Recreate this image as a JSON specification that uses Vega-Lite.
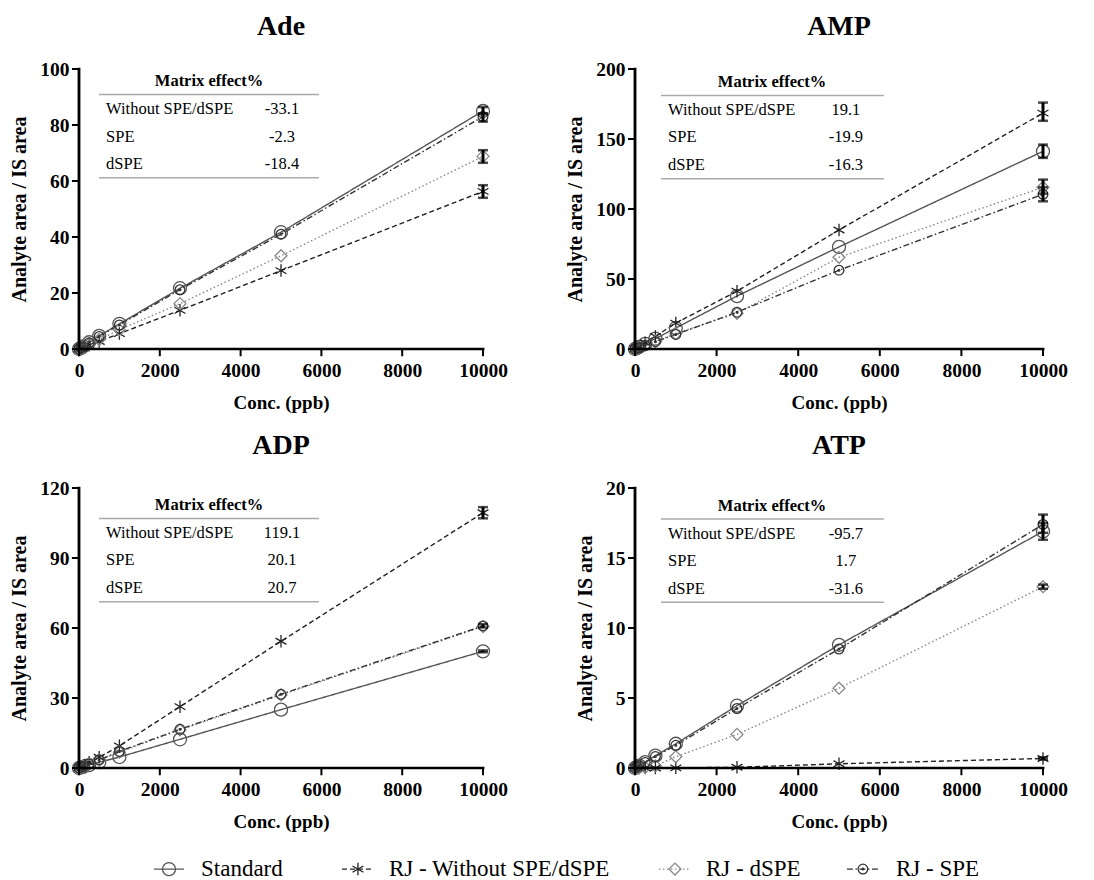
{
  "$schema": "https://vega.github.io/schema/vega-lite/v6.json",
  "padding": {"left": 9, "top": 13, "right": 5, "bottom": 0},
  "background": "white",
  "datasets": {
    "pts": [
      {"p":"Ade","s":"Standard","c":0,"v":0},{"p":"Ade","s":"Standard","c":50,"v":0.4},{"p":"Ade","s":"Standard","c":100,"v":0.9},{"p":"Ade","s":"Standard","c":250,"v":2.4},{"p":"Ade","s":"Standard","c":500,"v":4.7},{"p":"Ade","s":"Standard","c":1000,"v":9.0},{"p":"Ade","s":"Standard","c":2500,"v":21.7},{"p":"Ade","s":"Standard","c":5000,"v":41.7},{"p":"Ade","s":"Standard","c":10000,"v":85.0},
      {"p":"Ade","s":"RJ - Without SPE/dSPE","c":0,"v":0},{"p":"Ade","s":"RJ - Without SPE/dSPE","c":50,"v":0.2},{"p":"Ade","s":"RJ - Without SPE/dSPE","c":100,"v":0.5},{"p":"Ade","s":"RJ - Without SPE/dSPE","c":250,"v":1.3},{"p":"Ade","s":"RJ - Without SPE/dSPE","c":500,"v":2.7},{"p":"Ade","s":"RJ - Without SPE/dSPE","c":1000,"v":5.5},{"p":"Ade","s":"RJ - Without SPE/dSPE","c":2500,"v":13.8},{"p":"Ade","s":"RJ - Without SPE/dSPE","c":5000,"v":28.0},{"p":"Ade","s":"RJ - Without SPE/dSPE","c":10000,"v":56.3},
      {"p":"Ade","s":"RJ - dSPE","c":0,"v":0},{"p":"Ade","s":"RJ - dSPE","c":50,"v":0.3},{"p":"Ade","s":"RJ - dSPE","c":100,"v":0.6},{"p":"Ade","s":"RJ - dSPE","c":250,"v":1.7},{"p":"Ade","s":"RJ - dSPE","c":500,"v":3.4},{"p":"Ade","s":"RJ - dSPE","c":1000,"v":6.9},{"p":"Ade","s":"RJ - dSPE","c":2500,"v":16.2},{"p":"Ade","s":"RJ - dSPE","c":5000,"v":33.3},{"p":"Ade","s":"RJ - dSPE","c":10000,"v":68.8},
      {"p":"Ade","s":"RJ - SPE","c":0,"v":0},{"p":"Ade","s":"RJ - SPE","c":50,"v":0.4},{"p":"Ade","s":"RJ - SPE","c":100,"v":0.8},{"p":"Ade","s":"RJ - SPE","c":250,"v":2.2},{"p":"Ade","s":"RJ - SPE","c":500,"v":4.5},{"p":"Ade","s":"RJ - SPE","c":1000,"v":8.6},{"p":"Ade","s":"RJ - SPE","c":2500,"v":21.2},{"p":"Ade","s":"RJ - SPE","c":5000,"v":41.0},{"p":"Ade","s":"RJ - SPE","c":10000,"v":83.0},
      {"p":"AMP","s":"Standard","c":0,"v":0},{"p":"AMP","s":"Standard","c":50,"v":0.7},{"p":"AMP","s":"Standard","c":100,"v":1.5},{"p":"AMP","s":"Standard","c":250,"v":3.7},{"p":"AMP","s":"Standard","c":500,"v":7.4},{"p":"AMP","s":"Standard","c":1000,"v":15.0},{"p":"AMP","s":"Standard","c":2500,"v":37.8},{"p":"AMP","s":"Standard","c":5000,"v":72.9},{"p":"AMP","s":"Standard","c":10000,"v":141.2},
      {"p":"AMP","s":"RJ - Without SPE/dSPE","c":0,"v":0},{"p":"AMP","s":"RJ - Without SPE/dSPE","c":50,"v":0.9},{"p":"AMP","s":"RJ - Without SPE/dSPE","c":100,"v":1.8},{"p":"AMP","s":"RJ - Without SPE/dSPE","c":250,"v":4.5},{"p":"AMP","s":"RJ - Without SPE/dSPE","c":500,"v":9.0},{"p":"AMP","s":"RJ - Without SPE/dSPE","c":1000,"v":18.5},{"p":"AMP","s":"RJ - Without SPE/dSPE","c":2500,"v":41.3},{"p":"AMP","s":"RJ - Without SPE/dSPE","c":5000,"v":85.0},{"p":"AMP","s":"RJ - Without SPE/dSPE","c":10000,"v":168.5},
      {"p":"AMP","s":"RJ - dSPE","c":0,"v":0},{"p":"AMP","s":"RJ - dSPE","c":50,"v":0.5},{"p":"AMP","s":"RJ - dSPE","c":100,"v":1.1},{"p":"AMP","s":"RJ - dSPE","c":250,"v":2.7},{"p":"AMP","s":"RJ - dSPE","c":500,"v":5.5},{"p":"AMP","s":"RJ - dSPE","c":1000,"v":11.0},{"p":"AMP","s":"RJ - dSPE","c":2500,"v":25.5},{"p":"AMP","s":"RJ - dSPE","c":5000,"v":65.5},{"p":"AMP","s":"RJ - dSPE","c":10000,"v":115.5},
      {"p":"AMP","s":"RJ - SPE","c":0,"v":0},{"p":"AMP","s":"RJ - SPE","c":50,"v":0.5},{"p":"AMP","s":"RJ - SPE","c":100,"v":1.0},{"p":"AMP","s":"RJ - SPE","c":250,"v":2.6},{"p":"AMP","s":"RJ - SPE","c":500,"v":5.2},{"p":"AMP","s":"RJ - SPE","c":1000,"v":10.4},{"p":"AMP","s":"RJ - SPE","c":2500,"v":26.3},{"p":"AMP","s":"RJ - SPE","c":5000,"v":56.3},{"p":"AMP","s":"RJ - SPE","c":10000,"v":110.5},
      {"p":"ADP","s":"Standard","c":0,"v":0},{"p":"ADP","s":"Standard","c":50,"v":0.25},{"p":"ADP","s":"Standard","c":100,"v":0.5},{"p":"ADP","s":"Standard","c":250,"v":1.25},{"p":"ADP","s":"Standard","c":500,"v":2.5},{"p":"ADP","s":"Standard","c":1000,"v":4.7},{"p":"ADP","s":"Standard","c":2500,"v":12.3},{"p":"ADP","s":"Standard","c":5000,"v":25.0},{"p":"ADP","s":"Standard","c":10000,"v":50.0},
      {"p":"ADP","s":"RJ - Without SPE/dSPE","c":0,"v":0},{"p":"ADP","s":"RJ - Without SPE/dSPE","c":50,"v":0.5},{"p":"ADP","s":"RJ - Without SPE/dSPE","c":100,"v":1.0},{"p":"ADP","s":"RJ - Without SPE/dSPE","c":250,"v":2.5},{"p":"ADP","s":"RJ - Without SPE/dSPE","c":500,"v":4.6},{"p":"ADP","s":"RJ - Without SPE/dSPE","c":1000,"v":9.5},{"p":"ADP","s":"RJ - Without SPE/dSPE","c":2500,"v":26.3},{"p":"ADP","s":"RJ - Without SPE/dSPE","c":5000,"v":54.3},{"p":"ADP","s":"RJ - Without SPE/dSPE","c":10000,"v":109.4},
      {"p":"ADP","s":"RJ - dSPE","c":0,"v":0},{"p":"ADP","s":"RJ - dSPE","c":50,"v":0.35},{"p":"ADP","s":"RJ - dSPE","c":100,"v":0.7},{"p":"ADP","s":"RJ - dSPE","c":250,"v":1.7},{"p":"ADP","s":"RJ - dSPE","c":500,"v":3.4},{"p":"ADP","s":"RJ - dSPE","c":1000,"v":6.8},{"p":"ADP","s":"RJ - dSPE","c":2500,"v":16.3},{"p":"ADP","s":"RJ - dSPE","c":5000,"v":31.3},{"p":"ADP","s":"RJ - dSPE","c":10000,"v":60.6},
      {"p":"ADP","s":"RJ - SPE","c":0,"v":0},{"p":"ADP","s":"RJ - SPE","c":50,"v":0.35},{"p":"ADP","s":"RJ - SPE","c":100,"v":0.7},{"p":"ADP","s":"RJ - SPE","c":250,"v":1.7},{"p":"ADP","s":"RJ - SPE","c":500,"v":3.5},{"p":"ADP","s":"RJ - SPE","c":1000,"v":7.1},{"p":"ADP","s":"RJ - SPE","c":2500,"v":16.6},{"p":"ADP","s":"RJ - SPE","c":5000,"v":31.6},{"p":"ADP","s":"RJ - SPE","c":10000,"v":60.9},
      {"p":"ATP","s":"Standard","c":0,"v":0},{"p":"ATP","s":"Standard","c":50,"v":0.08},{"p":"ATP","s":"Standard","c":100,"v":0.17},{"p":"ATP","s":"Standard","c":250,"v":0.42},{"p":"ATP","s":"Standard","c":500,"v":0.88},{"p":"ATP","s":"Standard","c":1000,"v":1.73},{"p":"ATP","s":"Standard","c":2500,"v":4.45},{"p":"ATP","s":"Standard","c":5000,"v":8.8},{"p":"ATP","s":"Standard","c":10000,"v":16.9},
      {"p":"ATP","s":"RJ - Without SPE/dSPE","c":0,"v":0},{"p":"ATP","s":"RJ - Without SPE/dSPE","c":50,"v":0},{"p":"ATP","s":"RJ - Without SPE/dSPE","c":100,"v":0},{"p":"ATP","s":"RJ - Without SPE/dSPE","c":250,"v":0},{"p":"ATP","s":"RJ - Without SPE/dSPE","c":500,"v":0},{"p":"ATP","s":"RJ - Without SPE/dSPE","c":1000,"v":0.01},{"p":"ATP","s":"RJ - Without SPE/dSPE","c":2500,"v":0.05},{"p":"ATP","s":"RJ - Without SPE/dSPE","c":5000,"v":0.3},{"p":"ATP","s":"RJ - Without SPE/dSPE","c":10000,"v":0.68},
      {"p":"ATP","s":"RJ - dSPE","c":0,"v":0},{"p":"ATP","s":"RJ - dSPE","c":50,"v":0},{"p":"ATP","s":"RJ - dSPE","c":100,"v":0.01},{"p":"ATP","s":"RJ - dSPE","c":250,"v":0.05},{"p":"ATP","s":"RJ - dSPE","c":500,"v":0.15},{"p":"ATP","s":"RJ - dSPE","c":1000,"v":0.8},{"p":"ATP","s":"RJ - dSPE","c":2500,"v":2.4},{"p":"ATP","s":"RJ - dSPE","c":5000,"v":5.7},{"p":"ATP","s":"RJ - dSPE","c":10000,"v":12.95},
      {"p":"ATP","s":"RJ - SPE","c":0,"v":0},{"p":"ATP","s":"RJ - SPE","c":50,"v":0.08},{"p":"ATP","s":"RJ - SPE","c":100,"v":0.16},{"p":"ATP","s":"RJ - SPE","c":250,"v":0.4},{"p":"ATP","s":"RJ - SPE","c":500,"v":0.82},{"p":"ATP","s":"RJ - SPE","c":1000,"v":1.62},{"p":"ATP","s":"RJ - SPE","c":2500,"v":4.25},{"p":"ATP","s":"RJ - SPE","c":5000,"v":8.5},{"p":"ATP","s":"RJ - SPE","c":10000,"v":17.4}
    ],
    "errs": [
      {"p":"Ade","s":"Standard","c":10000,"lo":83.8,"hi":86.4},{"p":"Ade","s":"RJ - SPE","c":10000,"lo":81.2,"hi":84.2},{"p":"Ade","s":"RJ - dSPE","c":10000,"lo":66.5,"hi":71.0},{"p":"Ade","s":"RJ - Without SPE/dSPE","c":10000,"lo":54.0,"hi":58.5},
      {"p":"AMP","s":"RJ - Without SPE/dSPE","c":10000,"lo":163.0,"hi":176.0},{"p":"AMP","s":"Standard","c":10000,"lo":136.5,"hi":146.0},{"p":"AMP","s":"RJ - dSPE","c":10000,"lo":111.0,"hi":121.0},{"p":"AMP","s":"RJ - SPE","c":10000,"lo":105.5,"hi":115.5},
      {"p":"ADP","s":"RJ - Without SPE/dSPE","c":10000,"lo":107.0,"hi":111.8},{"p":"ADP","s":"RJ - SPE","c":10000,"lo":60.2,"hi":61.6},{"p":"ADP","s":"Standard","c":10000,"lo":49.6,"hi":50.4},
      {"p":"ATP","s":"Standard","c":10000,"lo":16.3,"hi":17.5},{"p":"ATP","s":"RJ - SPE","c":10000,"lo":16.8,"hi":18.1},{"p":"ATP","s":"RJ - dSPE","c":10000,"lo":12.8,"hi":13.1},{"p":"ATP","s":"RJ - Without SPE/dSPE","c":10000,"lo":0.6,"hi":0.76}
    ],
    "tbl": [
      {"p":"Ade","row":1,"label":"Without SPE/dSPE","val":"-33.1"},{"p":"Ade","row":2,"label":"SPE","val":"-2.3"},{"p":"Ade","row":3,"label":"dSPE","val":"-18.4"},
      {"p":"AMP","row":1,"label":"Without SPE/dSPE","val":"19.1"},{"p":"AMP","row":2,"label":"SPE","val":"-19.9"},{"p":"AMP","row":3,"label":"dSPE","val":"-16.3"},
      {"p":"ADP","row":1,"label":"Without SPE/dSPE","val":"119.1"},{"p":"ADP","row":2,"label":"SPE","val":"20.1"},{"p":"ADP","row":3,"label":"dSPE","val":"20.7"},
      {"p":"ATP","row":1,"label":"Without SPE/dSPE","val":"-95.7"},{"p":"ATP","row":2,"label":"SPE","val":"1.7"},{"p":"ATP","row":3,"label":"dSPE","val":"-31.6"}
    ],
    "leg": [
      {"s":"Standard"},{"s":"RJ - Without SPE/dSPE"},{"s":"RJ - dSPE"},{"s":"RJ - SPE"}
    ],
    "xt": [{"t":0},{"t":2000},{"t":4000},{"t":6000},{"t":8000},{"t":10000}],
    "yt": [
      {"p":"Ade","t":0},{"p":"Ade","t":20},{"p":"Ade","t":40},{"p":"Ade","t":60},{"p":"Ade","t":80},{"p":"Ade","t":100},
      {"p":"AMP","t":0},{"p":"AMP","t":50},{"p":"AMP","t":100},{"p":"AMP","t":150},{"p":"AMP","t":200},
      {"p":"ADP","t":0},{"p":"ADP","t":30},{"p":"ADP","t":60},{"p":"ADP","t":90},{"p":"ADP","t":120},
      {"p":"ATP","t":0},{"p":"ATP","t":5},{"p":"ATP","t":10},{"p":"ATP","t":15},{"p":"ATP","t":20}
    ]
  },
  "columns": 2,
  "bounds": "flush",
  "spacing": {"row": 139, "column": 152},
  "concat": [
    {
      "width": 404, "height": 280,
      "title": {"text": "Ade"},
      "layer": [
        {
          "layer": [
            {
              "data": {"name": "pts"},
              "transform": [{"filter": "datum.p === 'Ade'"}],
              "mark": {"type": "line", "strokeWidth": 1.4},
              "encoding": {
                "x": {"field": "c", "type": "quantitative", "title": "Conc. (ppb)", "scale": {"domain": [0, 10000], "nice": false}, "axis": {"values": [0, 2000, 4000, 6000, 8000, 10000], "format": "d"}},
                "y": {"field": "v", "type": "quantitative", "title": "Analyte area / IS area", "scale": {"domain": [0, 100], "nice": false}, "axis": {"values": [0, 20, 40, 60, 80, 100]}},
                "stroke": {"field": "s", "type": "nominal", "scale": {"domain": ["Standard", "RJ - Without SPE/dSPE", "RJ - dSPE", "RJ - SPE"], "range": ["#555555", "#222222", "#888888", "#333333"]}, "legend": null},
                "strokeDash": {"field": "s", "type": "nominal", "scale": {"domain": ["Standard", "RJ - Without SPE/dSPE", "RJ - dSPE", "RJ - SPE"], "range": [[1, 0], [5, 3], [1.5, 2.5], [6, 2.5, 1.5, 2.5]]}, "legend": null}
              }
            },
            {
              "data": {"name": "pts"},
              "transform": [{"filter": "datum.p === 'Ade'"}],
              "mark": {"type": "point", "filled": false, "strokeWidth": 1.3, "opacity": 1},
              "encoding": {
                "x": {"field": "c", "type": "quantitative", "title": "Conc. (ppb)"},
                "y": {"field": "v", "type": "quantitative", "title": "Analyte area / IS area"},
                "stroke": {"field": "s", "type": "nominal", "legend": null},
                "size": {"field": "s", "type": "ordinal", "scale": {"domain": ["Standard", "RJ - Without SPE/dSPE", "RJ - dSPE", "RJ - SPE"], "range": [170, 130, 110, 150]}, "legend": null},
                "shape": {"field": "s", "type": "nominal", "scale": {"domain": ["Standard", "RJ - Without SPE/dSPE", "RJ - dSPE", "RJ - SPE"], "range": ["circle", "M0,-1L0,1M-0.87,-0.5L0.87,0.5M-0.87,0.5L0.87,-0.5", "diamond", "M0.85,0A0.85,0.85 0 1,1 -0.85,0A0.85,0.85 0 1,1 0.85,0M0.15,0A0.15,0.15 0 1,1 -0.15,0A0.15,0.15 0 1,1 0.15,0"]}, "legend": null}
              }
            },
            {
              "data": {"name": "errs"},
              "transform": [{"filter": "datum.p === 'Ade'"}],
              "mark": {"type": "errorbar", "ticks": {"size": 10, "thickness": 2.5, "color": "black"}, "rule": {"strokeWidth": 3, "color": "black"}},
              "encoding": {
                "x": {"field": "c", "type": "quantitative", "title": "Conc. (ppb)"},
                "y": {"field": "lo", "type": "quantitative", "title": "Analyte area / IS area"},
                "y2": {"field": "hi"}
              }
            },
            {
              "data": {"name": "yt"},
              "transform": [{"filter": "datum.p === 'Ade'"}],
              "mark": {"type": "rule", "color": "#000000", "strokeWidth": 2},
              "encoding": {"y": {"field": "t", "type": "quantitative", "title": "Analyte area / IS area"}, "x": {"datum": -175, "type": "quantitative"}, "x2": {"datum": 1}}
            }
          ]
        },
        {
          "layer": [
            {
              "data": {"values": [{}]},
              "mark": {"type": "rule", "color": "#aaaaaa", "strokeWidth": 1.5},
              "encoding": {"x": {"datum": 495, "type": "quantitative"}, "x2": {"datum": 5940}, "y": {"datum": 0.47, "type": "quantitative", "axis": null, "scale": {"domain": [-0.4545, 9.727], "reverse": true, "nice": false, "zero": false}}}
            },
            {
              "data": {"values": [{}]},
              "mark": {"type": "rule", "color": "#aaaaaa", "strokeWidth": 1.5},
              "encoding": {"x": {"datum": 495, "type": "quantitative"}, "x2": {"datum": 5940}, "y": {"datum": 3.5, "type": "quantitative", "axis": null}}
            },
            {
              "data": {"values": [{}]},
              "mark": {"type": "text", "font": "Liberation Serif", "fontWeight": "bold", "fontSize": 16.5, "align": "center", "baseline": "middle", "color": "black"},
              "encoding": {"x": {"datum": 3220, "type": "quantitative"}, "y": {"datum": 0, "type": "quantitative", "axis": null}, "text": {"value": "Matrix effect%"}}
            },
            {
              "data": {"name": "tbl"},
              "transform": [{"filter": "datum.p === 'Ade'"}],
              "mark": {"type": "text", "font": "Liberation Serif", "fontSize": 16.5, "align": "left", "baseline": "middle", "color": "black"},
              "encoding": {"x": {"datum": 670, "type": "quantitative"}, "y": {"field": "row", "type": "quantitative", "axis": null}, "text": {"field": "label"}}
            },
            {
              "data": {"name": "tbl"},
              "transform": [{"filter": "datum.p === 'Ade'"}],
              "mark": {"type": "text", "font": "Liberation Serif", "fontSize": 16.5, "align": "center", "baseline": "middle", "color": "black"},
              "encoding": {"x": {"datum": 5025, "type": "quantitative"}, "y": {"field": "row", "type": "quantitative", "axis": null}, "text": {"field": "val"}}
            },
            {
              "data": {"values": [{}]},
              "mark": {"type": "rect", "color": "#000000"},
              "encoding": {"x": {"datum": -35, "type": "quantitative"}, "x2": {"datum": 10035}, "y": {"datum": 9.682, "type": "quantitative", "axis": null}, "y2": {"datum": 9.772}}
            },
            {
              "data": {"values": [{}]},
              "mark": {"type": "rect", "color": "#000000"},
              "encoding": {"x": {"datum": -35, "type": "quantitative"}, "x2": {"datum": 35}, "y": {"datum": -0.4995, "type": "quantitative", "axis": null}, "y2": {"datum": 9.772}}
            },
            {
              "data": {"name": "xt"},
              "mark": {"type": "rule", "color": "#000000", "strokeWidth": 2},
              "encoding": {"x": {"field": "t", "type": "quantitative", "title": "Conc. (ppb)"}, "y": {"datum": 9.7, "type": "quantitative", "axis": null}, "y2": {"datum": 9.99}}
            }
          ]
        }
      ],
      "resolve": {"scale": {"y": "independent"}}
    },
    {
      "width": 408, "height": 280,
      "title": {"text": "AMP"},
      "layer": [
        {
          "layer": [
            {
              "data": {"name": "pts"},
              "transform": [{"filter": "datum.p === 'AMP'"}],
              "mark": {"type": "line", "strokeWidth": 1.4},
              "encoding": {
                "x": {"field": "c", "type": "quantitative", "title": "Conc. (ppb)", "scale": {"domain": [0, 10000], "nice": false}, "axis": {"values": [0, 2000, 4000, 6000, 8000, 10000], "format": "d"}},
                "y": {"field": "v", "type": "quantitative", "title": "Analyte area / IS area", "scale": {"domain": [0, 200], "nice": false}, "axis": {"values": [0, 50, 100, 150, 200]}},
                "stroke": {"field": "s", "type": "nominal", "legend": null},
                "strokeDash": {"field": "s", "type": "nominal", "legend": null}
              }
            },
            {
              "data": {"name": "pts"},
              "transform": [{"filter": "datum.p === 'AMP'"}],
              "mark": {"type": "point", "filled": false, "strokeWidth": 1.3, "opacity": 1},
              "encoding": {
                "x": {"field": "c", "type": "quantitative", "title": "Conc. (ppb)"},
                "y": {"field": "v", "type": "quantitative", "title": "Analyte area / IS area"},
                "stroke": {"field": "s", "type": "nominal", "legend": null},
                "size": {"field": "s", "type": "ordinal", "legend": null},
                "shape": {"field": "s", "type": "nominal", "legend": null}
              }
            },
            {
              "data": {"name": "errs"},
              "transform": [{"filter": "datum.p === 'AMP'"}],
              "mark": {"type": "errorbar", "ticks": {"size": 10, "thickness": 2.5, "color": "black"}, "rule": {"strokeWidth": 3, "color": "black"}},
              "encoding": {
                "x": {"field": "c", "type": "quantitative", "title": "Conc. (ppb)"},
                "y": {"field": "lo", "type": "quantitative", "title": "Analyte area / IS area"},
                "y2": {"field": "hi"}
              }
            },
            {
              "data": {"name": "yt"},
              "transform": [{"filter": "datum.p === 'AMP'"}],
              "mark": {"type": "rule", "color": "#000000", "strokeWidth": 2},
              "encoding": {"y": {"field": "t", "type": "quantitative", "title": "Analyte area / IS area"}, "x": {"datum": -172, "type": "quantitative"}, "x2": {"datum": 1}}
            }
          ]
        },
        {
          "layer": [
            {
              "data": {"values": [{}]},
              "mark": {"type": "rule", "color": "#aaaaaa", "strokeWidth": 1.5},
              "encoding": {"x": {"datum": 637, "type": "quantitative"}, "x2": {"datum": 6100}, "y": {"datum": 0.47, "type": "quantitative", "axis": null, "scale": {"domain": [-0.4909, 9.691], "reverse": true, "nice": false, "zero": false}}}
            },
            {
              "data": {"values": [{}]},
              "mark": {"type": "rule", "color": "#aaaaaa", "strokeWidth": 1.5},
              "encoding": {"x": {"datum": 637, "type": "quantitative"}, "x2": {"datum": 6100}, "y": {"datum": 3.5, "type": "quantitative", "axis": null}}
            },
            {
              "data": {"values": [{}]},
              "mark": {"type": "text", "font": "Liberation Serif", "fontWeight": "bold", "fontSize": 16.5, "align": "center", "baseline": "middle", "color": "black"},
              "encoding": {"x": {"datum": 3360, "type": "quantitative"}, "y": {"datum": 0, "type": "quantitative", "axis": null}, "text": {"value": "Matrix effect%"}}
            },
            {
              "data": {"name": "tbl"},
              "transform": [{"filter": "datum.p === 'AMP'"}],
              "mark": {"type": "text", "font": "Liberation Serif", "fontSize": 16.5, "align": "left", "baseline": "middle", "color": "black"},
              "encoding": {"x": {"datum": 810, "type": "quantitative"}, "y": {"field": "row", "type": "quantitative", "axis": null}, "text": {"field": "label"}}
            },
            {
              "data": {"name": "tbl"},
              "transform": [{"filter": "datum.p === 'AMP'"}],
              "mark": {"type": "text", "font": "Liberation Serif", "fontSize": 16.5, "align": "center", "baseline": "middle", "color": "black"},
              "encoding": {"x": {"datum": 5170, "type": "quantitative"}, "y": {"field": "row", "type": "quantitative", "axis": null}, "text": {"field": "val"}}
            },
            {
              "data": {"values": [{}]},
              "mark": {"type": "rect", "color": "#000000"},
              "encoding": {"x": {"datum": -35, "type": "quantitative"}, "x2": {"datum": 10035}, "y": {"datum": 9.646, "type": "quantitative", "axis": null}, "y2": {"datum": 9.736}}
            },
            {
              "data": {"values": [{}]},
              "mark": {"type": "rect", "color": "#000000"},
              "encoding": {"x": {"datum": -35, "type": "quantitative"}, "x2": {"datum": 35}, "y": {"datum": -0.5359, "type": "quantitative", "axis": null}, "y2": {"datum": 9.736}}
            },
            {
              "data": {"name": "xt"},
              "mark": {"type": "rule", "color": "#000000", "strokeWidth": 2},
              "encoding": {"x": {"field": "t", "type": "quantitative", "title": "Conc. (ppb)"}, "y": {"datum": 9.66, "type": "quantitative", "axis": null}, "y2": {"datum": 9.95}}
            }
          ]
        }
      ],
      "resolve": {"scale": {"y": "independent"}}
    },
    {
      "width": 404, "height": 280,
      "title": {"text": "ADP"},
      "layer": [
        {
          "layer": [
            {
              "data": {"name": "pts"},
              "transform": [{"filter": "datum.p === 'ADP'"}],
              "mark": {"type": "line", "strokeWidth": 1.4},
              "encoding": {
                "x": {"field": "c", "type": "quantitative", "title": "Conc. (ppb)", "scale": {"domain": [0, 10000], "nice": false}, "axis": {"values": [0, 2000, 4000, 6000, 8000, 10000], "format": "d"}},
                "y": {"field": "v", "type": "quantitative", "title": "Analyte area / IS area", "scale": {"domain": [0, 120], "nice": false}, "axis": {"values": [0, 30, 60, 90, 120]}},
                "stroke": {"field": "s", "type": "nominal", "legend": null},
                "strokeDash": {"field": "s", "type": "nominal", "legend": null}
              }
            },
            {
              "data": {"name": "pts"},
              "transform": [{"filter": "datum.p === 'ADP'"}],
              "mark": {"type": "point", "filled": false, "strokeWidth": 1.3, "opacity": 1},
              "encoding": {
                "x": {"field": "c", "type": "quantitative", "title": "Conc. (ppb)"},
                "y": {"field": "v", "type": "quantitative", "title": "Analyte area / IS area"},
                "stroke": {"field": "s", "type": "nominal", "legend": null},
                "size": {"field": "s", "type": "ordinal", "legend": null},
                "shape": {"field": "s", "type": "nominal", "legend": null}
              }
            },
            {
              "data": {"name": "errs"},
              "transform": [{"filter": "datum.p === 'ADP'"}],
              "mark": {"type": "errorbar", "ticks": {"size": 10, "thickness": 2.5, "color": "black"}, "rule": {"strokeWidth": 3, "color": "black"}},
              "encoding": {
                "x": {"field": "c", "type": "quantitative", "title": "Conc. (ppb)"},
                "y": {"field": "lo", "type": "quantitative", "title": "Analyte area / IS area"},
                "y2": {"field": "hi"}
              }
            },
            {
              "data": {"name": "yt"},
              "transform": [{"filter": "datum.p === 'ADP'"}],
              "mark": {"type": "rule", "color": "#000000", "strokeWidth": 2},
              "encoding": {"y": {"field": "t", "type": "quantitative", "title": "Analyte area / IS area"}, "x": {"datum": -175, "type": "quantitative"}, "x2": {"datum": 1}}
            }
          ]
        },
        {
          "layer": [
            {
              "data": {"values": [{}]},
              "mark": {"type": "rule", "color": "#aaaaaa", "strokeWidth": 1.5},
              "encoding": {"x": {"datum": 495, "type": "quantitative"}, "x2": {"datum": 5940}, "y": {"datum": 0.47, "type": "quantitative", "axis": null, "scale": {"domain": [-0.636, 9.545], "reverse": true, "nice": false, "zero": false}}}
            },
            {
              "data": {"values": [{}]},
              "mark": {"type": "rule", "color": "#aaaaaa", "strokeWidth": 1.5},
              "encoding": {"x": {"datum": 495, "type": "quantitative"}, "x2": {"datum": 5940}, "y": {"datum": 3.5, "type": "quantitative", "axis": null}}
            },
            {
              "data": {"values": [{}]},
              "mark": {"type": "text", "font": "Liberation Serif", "fontWeight": "bold", "fontSize": 16.5, "align": "center", "baseline": "middle", "color": "black"},
              "encoding": {"x": {"datum": 3220, "type": "quantitative"}, "y": {"datum": 0, "type": "quantitative", "axis": null}, "text": {"value": "Matrix effect%"}}
            },
            {
              "data": {"name": "tbl"},
              "transform": [{"filter": "datum.p === 'ADP'"}],
              "mark": {"type": "text", "font": "Liberation Serif", "fontSize": 16.5, "align": "left", "baseline": "middle", "color": "black"},
              "encoding": {"x": {"datum": 670, "type": "quantitative"}, "y": {"field": "row", "type": "quantitative", "axis": null}, "text": {"field": "label"}}
            },
            {
              "data": {"name": "tbl"},
              "transform": [{"filter": "datum.p === 'ADP'"}],
              "mark": {"type": "text", "font": "Liberation Serif", "fontSize": 16.5, "align": "center", "baseline": "middle", "color": "black"},
              "encoding": {"x": {"datum": 5025, "type": "quantitative"}, "y": {"field": "row", "type": "quantitative", "axis": null}, "text": {"field": "val"}}
            },
            {
              "data": {"values": [{}]},
              "mark": {"type": "rect", "color": "#000000"},
              "encoding": {"x": {"datum": -35, "type": "quantitative"}, "x2": {"datum": 10035}, "y": {"datum": 9.5, "type": "quantitative", "axis": null}, "y2": {"datum": 9.59}}
            },
            {
              "data": {"values": [{}]},
              "mark": {"type": "rect", "color": "#000000"},
              "encoding": {"x": {"datum": -35, "type": "quantitative"}, "x2": {"datum": 35}, "y": {"datum": -0.681, "type": "quantitative", "axis": null}, "y2": {"datum": 9.59}}
            },
            {
              "data": {"name": "xt"},
              "mark": {"type": "rule", "color": "#000000", "strokeWidth": 2},
              "encoding": {"x": {"field": "t", "type": "quantitative", "title": "Conc. (ppb)"}, "y": {"datum": 9.52, "type": "quantitative", "axis": null}, "y2": {"datum": 9.81}}
            },
            {
              "data": {"name": "leg"},
              "transform": [{"filter": "datum.s === 'Standard'"}],
              "encoding": {"y": {"datum": 13.22, "type": "quantitative", "axis": null}},
              "layer": [
                {"mark": {"type": "rule", "strokeWidth": 1.3}, "encoding": {"x": {"datum": 1856, "type": "quantitative"}, "x2": {"datum": 2599}, "stroke": {"field": "s", "type": "nominal", "legend": null}, "strokeDash": {"field": "s", "type": "nominal", "legend": null}}},
                {"mark": {"type": "point", "filled": false, "strokeWidth": 1.3, "opacity": 1}, "encoding": {"x": {"datum": 2228, "type": "quantitative"}, "stroke": {"field": "s", "type": "nominal", "legend": null}, "shape": {"field": "s", "type": "nominal", "legend": null}, "size": {"field": "s", "type": "ordinal", "legend": null}}},
                {"mark": {"type": "text", "font": "Liberation Serif", "fontSize": 23, "align": "left", "baseline": "middle", "color": "black"}, "encoding": {"x": {"datum": 3020, "type": "quantitative"}, "text": {"field": "s"}}}
              ]
            },
            {
              "data": {"name": "leg"},
              "transform": [{"filter": "datum.s === 'RJ - Without SPE/dSPE'"}],
              "encoding": {"y": {"datum": 13.22, "type": "quantitative", "axis": null}},
              "layer": [
                {"mark": {"type": "rule", "strokeWidth": 1.3}, "encoding": {"x": {"datum": 6509, "type": "quantitative"}, "x2": {"datum": 7301}, "stroke": {"field": "s", "type": "nominal", "legend": null}, "strokeDash": {"field": "s", "type": "nominal", "legend": null}}},
                {"mark": {"type": "point", "filled": false, "strokeWidth": 1.3, "opacity": 1}, "encoding": {"x": {"datum": 6905, "type": "quantitative"}, "stroke": {"field": "s", "type": "nominal", "legend": null}, "shape": {"field": "s", "type": "nominal", "legend": null}, "size": {"field": "s", "type": "ordinal", "legend": null}}},
                {"mark": {"type": "text", "font": "Liberation Serif", "fontSize": 23, "align": "left", "baseline": "middle", "color": "black"}, "encoding": {"x": {"datum": 7673, "type": "quantitative"}, "text": {"field": "s"}}}
              ]
            },
            {
              "data": {"name": "leg"},
              "transform": [{"filter": "datum.s === 'RJ - dSPE'"}],
              "encoding": {"y": {"datum": 13.22, "type": "quantitative", "axis": null}},
              "layer": [
                {"mark": {"type": "rule", "strokeWidth": 1.3}, "encoding": {"x": {"datum": 14355, "type": "quantitative"}, "x2": {"datum": 15147}, "stroke": {"field": "s", "type": "nominal", "legend": null}, "strokeDash": {"field": "s", "type": "nominal", "legend": null}}},
                {"mark": {"type": "point", "filled": false, "strokeWidth": 1.3, "opacity": 1}, "encoding": {"x": {"datum": 14751, "type": "quantitative"}, "stroke": {"field": "s", "type": "nominal", "legend": null}, "shape": {"field": "s", "type": "nominal", "legend": null}, "size": {"field": "s", "type": "ordinal", "legend": null}}},
                {"mark": {"type": "text", "font": "Liberation Serif", "fontSize": 23, "align": "left", "baseline": "middle", "color": "black"}, "encoding": {"x": {"datum": 15518, "type": "quantitative"}, "text": {"field": "s"}}}
              ]
            },
            {
              "data": {"name": "leg"},
              "transform": [{"filter": "datum.s === 'RJ - SPE'"}],
              "encoding": {"y": {"datum": 13.22, "type": "quantitative", "axis": null}},
              "layer": [
                {"mark": {"type": "rule", "strokeWidth": 1.3}, "encoding": {"x": {"datum": 19008, "type": "quantitative"}, "x2": {"datum": 19800}, "stroke": {"field": "s", "type": "nominal", "legend": null}, "strokeDash": {"field": "s", "type": "nominal", "legend": null}}},
                {"mark": {"type": "point", "filled": false, "strokeWidth": 1.3, "opacity": 1}, "encoding": {"x": {"datum": 19404, "type": "quantitative"}, "stroke": {"field": "s", "type": "nominal", "legend": null}, "shape": {"field": "s", "type": "nominal", "legend": null}, "size": {"field": "s", "type": "ordinal", "legend": null}}},
                {"mark": {"type": "text", "font": "Liberation Serif", "fontSize": 23, "align": "left", "baseline": "middle", "color": "black"}, "encoding": {"x": {"datum": 20221, "type": "quantitative"}, "text": {"field": "s"}}}
              ]
            }
          ]
        }
      ],
      "resolve": {"scale": {"y": "independent"}}
    },
    {
      "width": 408, "height": 280,
      "title": {"text": "ATP"},
      "layer": [
        {
          "layer": [
            {
              "data": {"name": "pts"},
              "transform": [{"filter": "datum.p === 'ATP'"}],
              "mark": {"type": "line", "strokeWidth": 1.4},
              "encoding": {
                "x": {"field": "c", "type": "quantitative", "title": "Conc. (ppb)", "scale": {"domain": [0, 10000], "nice": false}, "axis": {"values": [0, 2000, 4000, 6000, 8000, 10000], "format": "d"}},
                "y": {"field": "v", "type": "quantitative", "title": "Analyte area / IS area", "scale": {"domain": [0, 20], "nice": false}, "axis": {"values": [0, 5, 10, 15, 20]}},
                "stroke": {"field": "s", "type": "nominal", "legend": null},
                "strokeDash": {"field": "s", "type": "nominal", "legend": null}
              }
            },
            {
              "data": {"name": "pts"},
              "transform": [{"filter": "datum.p === 'ATP'"}],
              "mark": {"type": "point", "filled": false, "strokeWidth": 1.3, "opacity": 1},
              "encoding": {
                "x": {"field": "c", "type": "quantitative", "title": "Conc. (ppb)"},
                "y": {"field": "v", "type": "quantitative", "title": "Analyte area / IS area"},
                "stroke": {"field": "s", "type": "nominal", "legend": null},
                "size": {"field": "s", "type": "ordinal", "legend": null},
                "shape": {"field": "s", "type": "nominal", "legend": null}
              }
            },
            {
              "data": {"name": "errs"},
              "transform": [{"filter": "datum.p === 'ATP'"}],
              "mark": {"type": "errorbar", "ticks": {"size": 10, "thickness": 2.5, "color": "black"}, "rule": {"strokeWidth": 3, "color": "black"}},
              "encoding": {
                "x": {"field": "c", "type": "quantitative", "title": "Conc. (ppb)"},
                "y": {"field": "lo", "type": "quantitative", "title": "Analyte area / IS area"},
                "y2": {"field": "hi"}
              }
            },
            {
              "data": {"name": "yt"},
              "transform": [{"filter": "datum.p === 'ATP'"}],
              "mark": {"type": "rule", "color": "#000000", "strokeWidth": 2},
              "encoding": {"y": {"field": "t", "type": "quantitative", "title": "Analyte area / IS area"}, "x": {"datum": -172, "type": "quantitative"}, "x2": {"datum": 1}}
            }
          ]
        },
        {
          "layer": [
            {
              "data": {"values": [{}]},
              "mark": {"type": "rule", "color": "#aaaaaa", "strokeWidth": 1.5},
              "encoding": {"x": {"datum": 637, "type": "quantitative"}, "x2": {"datum": 6100}, "y": {"datum": 0.47, "type": "quantitative", "axis": null, "scale": {"domain": [-0.655, 9.527], "reverse": true, "nice": false, "zero": false}}}
            },
            {
              "data": {"values": [{}]},
              "mark": {"type": "rule", "color": "#aaaaaa", "strokeWidth": 1.5},
              "encoding": {"x": {"datum": 637, "type": "quantitative"}, "x2": {"datum": 6100}, "y": {"datum": 3.5, "type": "quantitative", "axis": null}}
            },
            {
              "data": {"values": [{}]},
              "mark": {"type": "text", "font": "Liberation Serif", "fontWeight": "bold", "fontSize": 16.5, "align": "center", "baseline": "middle", "color": "black"},
              "encoding": {"x": {"datum": 3360, "type": "quantitative"}, "y": {"datum": 0, "type": "quantitative", "axis": null}, "text": {"value": "Matrix effect%"}}
            },
            {
              "data": {"name": "tbl"},
              "transform": [{"filter": "datum.p === 'ATP'"}],
              "mark": {"type": "text", "font": "Liberation Serif", "fontSize": 16.5, "align": "left", "baseline": "middle", "color": "black"},
              "encoding": {"x": {"datum": 810, "type": "quantitative"}, "y": {"field": "row", "type": "quantitative", "axis": null}, "text": {"field": "label"}}
            },
            {
              "data": {"name": "tbl"},
              "transform": [{"filter": "datum.p === 'ATP'"}],
              "mark": {"type": "text", "font": "Liberation Serif", "fontSize": 16.5, "align": "center", "baseline": "middle", "color": "black"},
              "encoding": {"x": {"datum": 5170, "type": "quantitative"}, "y": {"field": "row", "type": "quantitative", "axis": null}, "text": {"field": "val"}}
            },
            {
              "data": {"values": [{}]},
              "mark": {"type": "rect", "color": "#000000"},
              "encoding": {"x": {"datum": -35, "type": "quantitative"}, "x2": {"datum": 10035}, "y": {"datum": 9.482, "type": "quantitative", "axis": null}, "y2": {"datum": 9.572}}
            },
            {
              "data": {"values": [{}]},
              "mark": {"type": "rect", "color": "#000000"},
              "encoding": {"x": {"datum": -35, "type": "quantitative"}, "x2": {"datum": 35}, "y": {"datum": -0.7, "type": "quantitative", "axis": null}, "y2": {"datum": 9.572}}
            },
            {
              "data": {"name": "xt"},
              "mark": {"type": "rule", "color": "#000000", "strokeWidth": 2},
              "encoding": {"x": {"field": "t", "type": "quantitative", "title": "Conc. (ppb)"}, "y": {"datum": 9.5, "type": "quantitative", "axis": null}, "y2": {"datum": 9.79}}
            }
          ]
        }
      ],
      "resolve": {"scale": {"y": "independent"}}
    }
  ],
  "config": {
    "view": {"stroke": null},
    "font": "Liberation Serif",
    "axis": {
      "grid": false, "domain": false, "ticks": false,
      "labelFont": "Liberation Serif", "labelFontWeight": "bold", "labelFontSize": 19.5, "labelColor": "black", "labelPadding": 10, "labelFlush": false, "labelOverlap": false,
      "titleFont": "Liberation Serif", "titleFontWeight": "bold", "titleColor": "black"
    },
    "axisX": {"titleFontSize": 19, "titlePadding": 14, "labelPadding": 12},
    "axisY": {"titleFontSize": 20, "titlePadding": 10, "labelPadding": 10},
    "title": {"font": "Liberation Serif", "fontSize": 28, "fontWeight": "bold", "color": "black", "baseline": "alphabetic", "offset": 18, "anchor": "middle"}
  }
}
